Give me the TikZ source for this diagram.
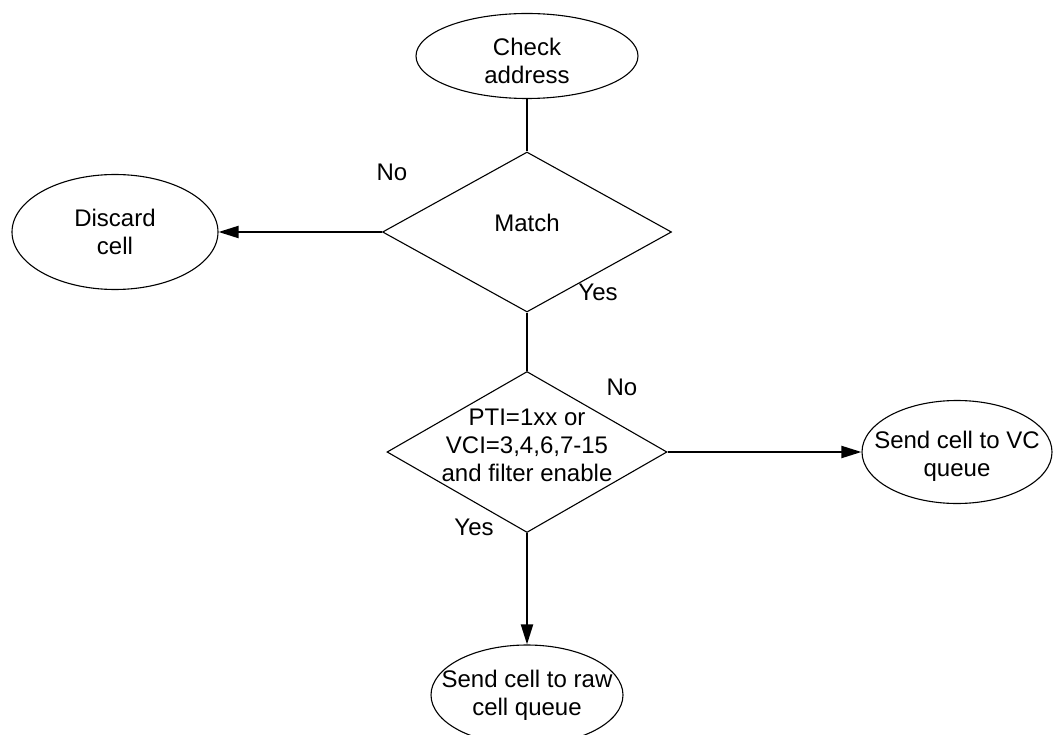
\documentclass[tikz,border=0pt]{standalone}
\usepackage{fontspec}
\setmainfont{Liberation Sans}
\usetikzlibrary{shapes.geometric,arrows.meta}

\tikzset{
  txt/.style={font=\fontsize{24}{28}\selectfont, align=center},
  terminal/.style={draw, line width=1.1pt, ellipse, inner sep=0pt},
  decision/.style={draw, line width=1.1pt, diamond, inner sep=0pt},
  flow/.style={line width=2pt},
  flowarrow/.style={flow, -{Triangle[length=20pt,width=12pt]}}
}

\begin{document}
\begin{tikzpicture}[x=1pt, y=-1pt]
   \useasboundingbox (0,0) rectangle (1054,735);

   % Start
   \node[terminal, minimum width=222pt, minimum height=85pt,
         label={[txt, yshift=-5pt]center:{Check\\address}}] (check) at (527,56) {};

   % First test
   \node[decision, minimum width=289pt, minimum height=160pt,
         label={[txt, yshift=9pt]center:Match}] (match) at (527,232) {};
   \node[terminal, minimum width=206pt, minimum height=115pt,
         label={[txt]center:{Discard\\cell}}] (discard) at (115,232) {};
   \node[txt] (no1) at (392,172) {No};
   \node[txt] (yes1) at (598,292) {Yes};

   % Second test
   \node[decision, minimum width=280pt, minimum height=161pt,
         label={[txt, yshift=7pt]center:{PTI=1xx or\\VCI=3,4,6,7-15\\and filter enable}}] (filter) at (527,452) {};
   \node[terminal, minimum width=190pt, minimum height=103pt,
         label={[txt, yshift=-4pt]center:{Send cell to VC\\queue}}] (vcq) at (957,452) {};
   \node[terminal, minimum width=192pt, minimum height=100pt,
         label={[txt]center:{Send cell to raw\\cell queue}}] (rawq) at (527,695) {};
   \node[txt] (no2) at (622,387) {No};
   \node[txt] (yes2) at (474,527) {Yes};

   % Connectors
   \draw[flow] (check.south) -- (match.north);
   \draw[flowarrow] (match.west) -- (discard.east);
   \draw[flow] (match.south) -- (filter.north);
   \draw[flowarrow] (filter.east) -- (vcq.west);
   \draw[flowarrow] (filter.south) -- (rawq.north);
\end{tikzpicture}
\end{document}
